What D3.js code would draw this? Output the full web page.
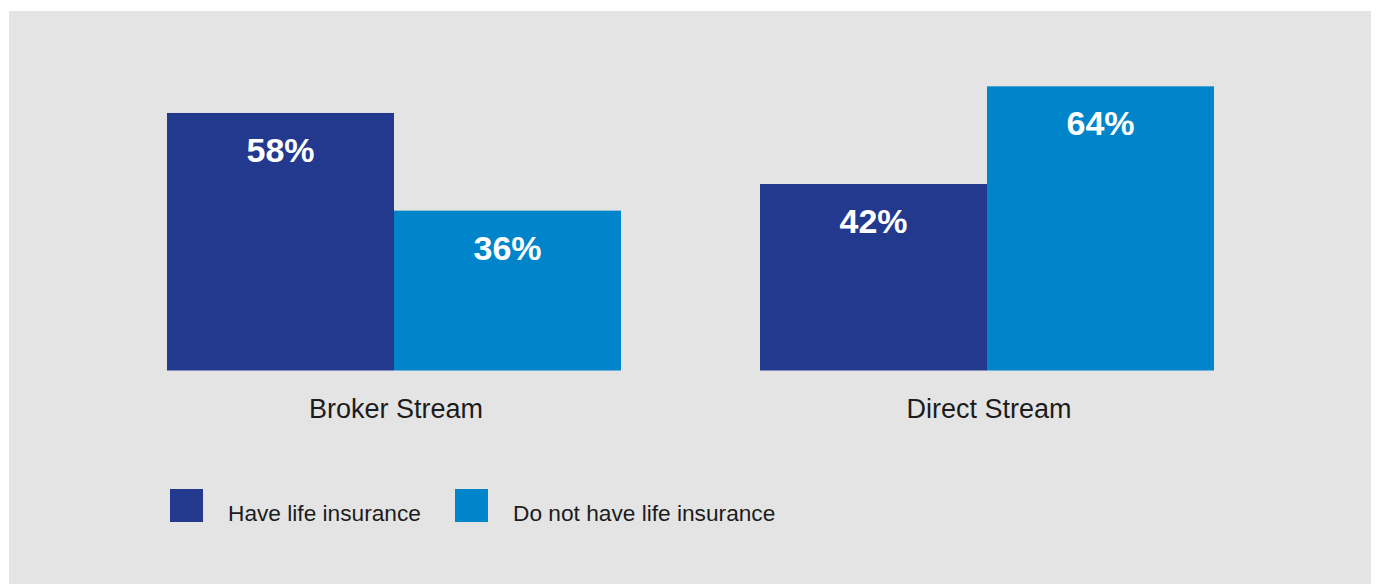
<!DOCTYPE html>
<html>
<head>
<meta charset="utf-8">
<script src="https://cdn.jsdelivr.net/npm/d3@7"></script>
<style>
  html, body { margin: 0; padding: 0; background: #ffffff; }
  svg { display: block; }
</style>
</head>
<body>
<svg id="chart" width="1376" height="584"></svg>
<script>
// Share of respondents by stream, in percent
const categories = ["Broker Stream", "Direct Stream"];
const seriesNames = ["Have life insurance", "Do not have life insurance"];
const haveLifeInsurance = [58, 42];
const noLifeInsurance = [36, 64];
const seriesColors = ["#22398d", "#0085ca"];

const rows = categories.map((c, i) => ({
  category: c,
  values: [haveLifeInsurance[i], noLifeInsurance[i]]
}));

const svg = d3.select("#chart");
const font = "'Liberation Sans', Arial, Helvetica, sans-serif";

// grey panel behind the chart
svg.append("rect")
  .attr("x", 9).attr("y", 11)
  .attr("width", 1362).attr("height", 580)
  .attr("fill", "#e4e4e4");

const baseline = 370.5;
const y = d3.scaleLinear().domain([0, 100]).range([baseline, baseline - 444]);

const x0 = d3.scaleBand()
  .domain(categories)
  .range([167, 1214])
  .paddingInner(0.2344)
  .paddingOuter(0);

const x1 = d3.scaleBand()
  .domain(seriesNames)
  .range([0, x0.bandwidth()])
  .padding(0);

const groups = svg.append("g").selectAll("g")
  .data(rows)
  .join("g")
  .attr("transform", d => `translate(${x0(d.category)},0)`);

const bars = groups.selectAll("g.bar")
  .data(d => d.values.map((v, i) => ({ series: seriesNames[i], value: v, idx: i })))
  .join("g")
  .attr("class", "bar");

bars.append("rect")
  .attr("x", d => x1(d.series))
  .attr("y", d => y(d.value))
  .attr("width", x1.bandwidth())
  .attr("height", d => baseline - y(d.value))
  .attr("fill", d => seriesColors[d.idx]);

bars.append("text")
  .attr("x", d => x1(d.series) + x1.bandwidth() / 2)
  .attr("y", d => y(d.value) + 49)
  .attr("text-anchor", "middle")
  .attr("fill", "#ffffff")
  .attr("font-family", font)
  .attr("font-weight", "bold")
  .attr("font-size", 34)
  .text(d => d.value + "%");

// category labels under each pair of bars
svg.append("g").selectAll("text")
  .data(categories)
  .join("text")
  .attr("x", d => x0(d) + x0.bandwidth() / 2 + 2)
  .attr("y", 418)
  .attr("text-anchor", "middle")
  .attr("fill", "#1c1c1c")
  .attr("font-family", font)
  .attr("font-size", 27)
  .text(d => d);

// legend
const legendX = [170, 455];
const legend = svg.append("g").selectAll("g")
  .data(seriesNames)
  .join("g")
  .attr("transform", (d, i) => `translate(${legendX[i]},489)`);

legend.append("rect")
  .attr("width", 33).attr("height", 33)
  .attr("fill", (d, i) => seriesColors[i]);

legend.append("text")
  .attr("x", 58)
  .attr("y", 32)
  .attr("fill", "#1c1c1c")
  .attr("font-family", font)
  .attr("font-size", 22.7)
  .text(d => d);
</script>
</body>
</html>
